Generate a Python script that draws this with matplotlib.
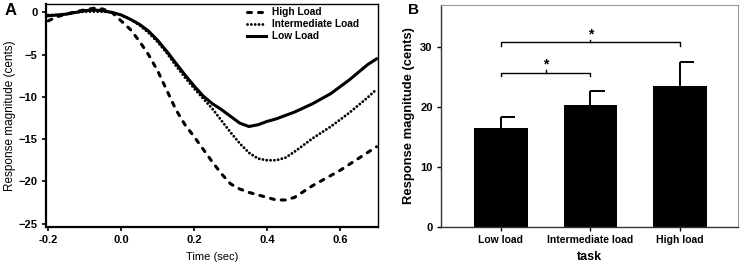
import numpy as np
import matplotlib
matplotlib.use("Agg")
import matplotlib.pyplot as plt

plt.rcParams['font.family'] = ['Liberation Sans', 'DejaVu Sans']

# Panel A: response curves (cents) sampled every 0.025 s
time_s = np.arange(-0.2, 0.7001, 0.025)
low_load = [-0.4, -0.3, -0.2, 0.0, 0.2, 0.3, 0.2, 0.0, -0.3, -0.8, -1.4, -2.2, -3.3,
            -4.6, -6.0, -7.4, -8.7, -9.9, -10.8, -11.5, -12.3, -13.1, -13.5, -13.3,
            -12.9, -12.6, -12.2, -11.8, -11.3, -10.8, -10.2, -9.6, -8.8, -8.0, -7.1,
            -6.2, -5.5]
intermediate_load = [-0.3, -0.3, -0.2, 0.0, 0.1, 0.1, 0.1, 0.0, -0.3, -0.8, -1.5, -2.4,
                     -3.5, -4.8, -6.3, -7.7, -9.0, -10.2, -11.4, -12.8, -14.2, -15.5,
                     -16.6, -17.3, -17.5, -17.5, -17.2, -16.5, -15.7, -14.9, -14.2,
                     -13.5, -12.7, -11.9, -11.0, -10.1, -9.1]
high_load = [-1.0, -0.5, -0.2, 0.1, 0.3, 0.5, 0.4, 0.0, -1.0, -2.0, -3.4, -5.0, -6.9,
             -9.2, -11.5, -13.3, -14.7, -16.2, -17.7, -19.1, -20.3, -20.9, -21.3, -21.6,
             -21.9, -22.2, -22.2, -21.9, -21.2, -20.5, -19.9, -19.3, -18.7, -18.0,
             -17.3, -16.6, -15.9]

# Panel B: mean response magnitude with upper error
tasks = ['Low load', 'Intermediate load', 'High load']
means = [16.5, 20.3, 23.5]
errors = [1.8, 2.4, 4.0]
sig_pairs = [(0, 1, 25.7), (0, 2, 30.8)]

fig = plt.figure(figsize=(7.43, 2.66), dpi=100)

# ---- Panel A
ax = fig.add_axes([0.0619, 0.1466, 0.4468, 0.8384])
ax.plot(time_s, high_load, color='black', lw=2.2, linestyle=(0, (1.3, 2.3)),
        dash_capstyle='round', label='High Load')
ax.plot(time_s, intermediate_load, color='black', lw=2.1, linestyle=(0, (0.01, 1.3)),
        dash_capstyle='round', label='Intermediate Load')
ax.plot(time_s, low_load, color='black', lw=2.2, label='Low Load')
ax.set_xlim(-0.206, 0.704)
ax.set_ylim(-25.4, 1.0)
ax.set_xticks([-0.2, 0.0, 0.2, 0.4, 0.6])
ax.set_xticklabels(['-0.2', '0.0', '0.2', '0.4', '0.6'])
ax.set_yticks([0, -5, -10, -15, -20, -25])
for s in ax.spines.values():
    s.set_linewidth(1.0)
ax.spines['left'].set_linewidth(1.6)
ax.spines['bottom'].set_linewidth(1.6)
ax.tick_params(direction='out', length=3, width=1.2, labelsize=8, pad=3)
for lab in ax.get_xticklabels() + ax.get_yticklabels():
    lab.set_fontweight('bold')
ax.set_xlabel('Time (sec)', fontsize=8, labelpad=5)
ax.set_ylabel('Response magnitude (cents)', fontsize=8.5, labelpad=2)
leg = ax.legend(loc='upper left', bbox_to_anchor=(0.605, 0.985), frameon=False,
                handlelength=1.9, handletextpad=0.6, labelspacing=0.2,
                borderaxespad=0, borderpad=0,
                prop={'weight': 'bold', 'size': 7.3})
fig.text(0.006, 0.99, 'A', fontsize=12, fontweight='bold', va='top')

# ---- Panel B
bx = fig.add_axes([0.5935, 0.1466, 0.3998, 0.8346])
pos = np.arange(len(tasks))
bx.bar(pos, means, width=0.6, color='black', zorder=2)
tops = np.array(means) + np.array(errors)
bx.vlines(pos, means, tops, color='black', lw=1.4, zorder=1)
bx.hlines(tops, pos, pos + 0.16, color='black', lw=1.4)
for i, j, y in sig_pairs:
    bx.plot([pos[i], pos[i], pos[j], pos[j]], [y - 0.6, y, y, y - 0.6],
            color='black', lw=1.0)
    mid = (pos[i] + pos[j]) / 2
    bx.plot([mid, mid], [y, y + 0.4], color='black', lw=1.0)
    bx.text(mid, y + 0.2, '*', ha='center', va='bottom', fontsize=10,
            fontweight='bold')
bx.set_xlim(-0.67, 2.65)
bx.set_ylim(0, 37)
bx.set_yticks([0, 10, 20, 30])
bx.set_xticks(pos)
bx.set_xticklabels(tasks)
for name in ['top', 'right']:
    bx.spines[name].set_color('#999999')
    bx.spines[name].set_linewidth(0.8)
for name in ['left', 'bottom']:
    bx.spines[name].set_linewidth(1.0)
    bx.spines[name].set_color('#333333')
bx.tick_params(direction='out', length=3, width=1.0, labelsize=8, pad=3)
bx.tick_params(axis='x', labelsize=7.5)
for lab in bx.get_xticklabels() + bx.get_yticklabels():
    lab.set_fontweight('bold')
bx.set_xlabel('task', fontsize=9, fontweight='bold', labelpad=4)
bx.set_ylabel('Response magnitude (cents)', fontsize=9.4, fontweight='bold',
              labelpad=4)
fig.text(0.549, 0.99, 'B', fontsize=11, fontweight='bold', va='top')

fig.savefig('out.png', dpi=100)
